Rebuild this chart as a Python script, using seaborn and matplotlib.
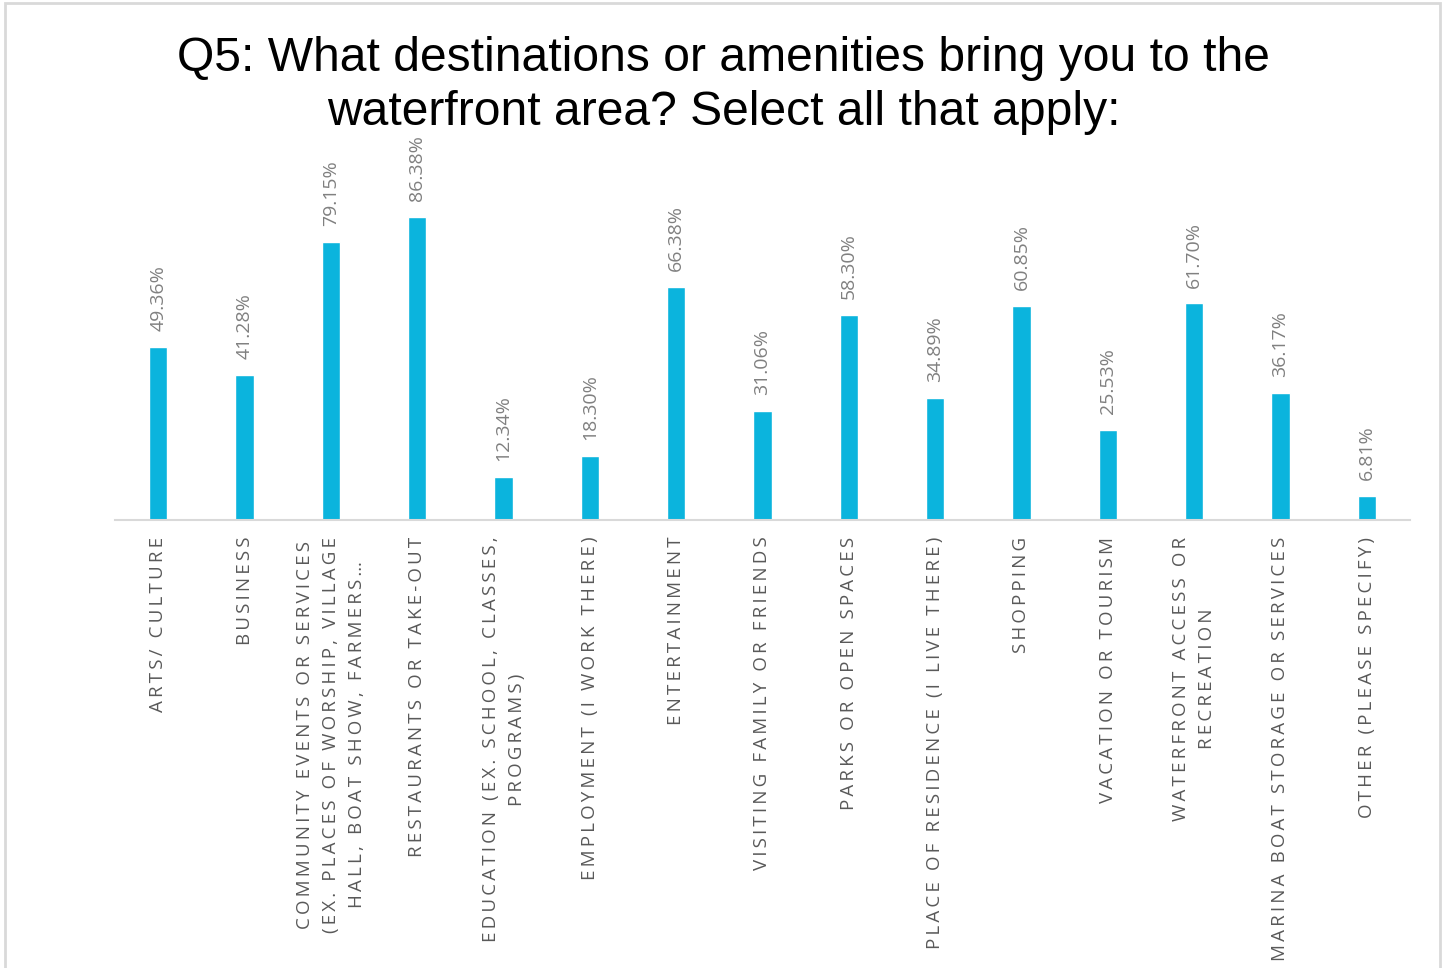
import matplotlib
matplotlib.use("Agg")
import matplotlib.pyplot as plt
import seaborn as sns
import pandas as pd
from matplotlib.patches import Rectangle

# Survey answers (share of respondents, %)
categories = [
    "Arts/ Culture",
    "Business",
    "Community events or services\n(ex. places of worship, village\nhall, boat show, farmers…",
    "Restaurants or take-out",
    "Education (ex. school, classes,\nprograms)",
    "Employment (I work there)",
    "Entertainment",
    "Visiting family or friends",
    "Parks or open spaces",
    "Place of residence (I live there)",
    "Shopping",
    "Vacation or tourism",
    "Waterfront access or\nrecreation",
    "Marina boat storage or services",
    "Other (please specify)",
]
percentages = [49.36, 41.28, 79.15, 86.38, 12.34, 18.30, 66.38, 31.06,
               58.30, 34.89, 60.85, 25.53, 61.70, 36.17, 6.81]

title_text = ("Q5: What destinations or amenities bring you to the\n"
              "waterfront area? Select all that apply:")

BAR_COLOR = "#0BB4DD"
GRID_GRAY = "#D9D9D9"


def spaced(text, gap="\u2009"):
    """Upper-case and letter-space a (possibly multi-line) label."""
    lines = text.upper().split("\n")
    return "\n".join(gap.join(list(line)) for line in lines)


df = pd.DataFrame({"category": categories, "pct": percentages})

sns.set_theme(style="white")
plt.rcParams["font.family"] = ["Open Sans", "DejaVu Sans"]

fig = plt.figure(figsize=(14.47, 9.68), dpi=100)
ax = fig.add_axes([0.0795, 0.4628, 0.8949, 0.3977])

sns.barplot(data=df, x="category", y="pct", color=BAR_COLOR,
            width=0.215, saturation=1, ax=ax)

ax.set_xlim(-0.5, len(categories) - 0.5)
ax.set_ylim(0, 109.7)

# value labels above each bar
for cont in ax.containers:
    ax.bar_label(cont, labels=[f"{v:.2f}%" for v in percentages],
                 rotation=90, padding=11.5, fontsize=14, color="#808080")

ax.set_xticks(range(len(categories)))
ax.set_xticklabels([spaced(c) for c in categories], rotation=90,
                   fontsize=13.5, color="#595959", linespacing=1.57)
ax.tick_params(axis="x", length=0, pad=12)
ax.set_yticks([])
ax.set_xlabel("")
ax.set_ylabel("")

for side in ["top", "right", "left"]:
    ax.spines[side].set_visible(False)
ax.spines["bottom"].set_color(GRID_GRAY)
ax.spines["bottom"].set_linewidth(1.5)

fig.text(0.5, 0.963, title_text, ha="center", va="top", fontsize=34.6,
         family=["Liberation Sans", "DejaVu Sans"], color="black",
         linespacing=1.27)

# light frame around the chart area
fig.add_artist(Rectangle((0.0038, -0.05), 0.9917, 1.047,
                         transform=fig.transFigure, fill=False,
                         edgecolor=GRID_GRAY, linewidth=2))

fig.savefig("out.png", dpi=100, facecolor="white")
